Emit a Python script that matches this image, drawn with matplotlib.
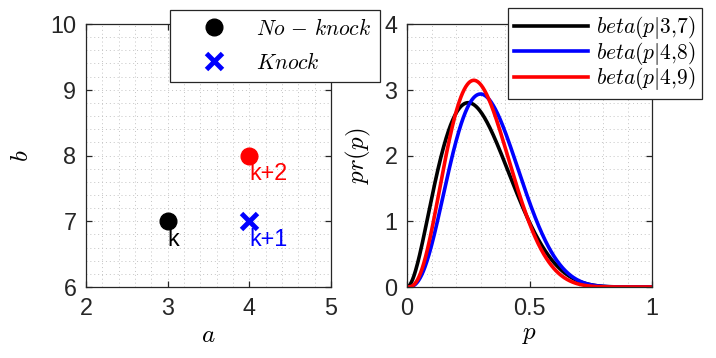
import math
import numpy as np
import matplotlib
matplotlib.use("Agg")
import matplotlib.pyplot as plt
from matplotlib.ticker import MultipleLocator

plt.rcParams['font.family'] = ['Liberation Sans', 'DejaVu Sans']
plt.rcParams['mathtext.fontset'] = 'cm'

# ---- data ----
point_a = [3, 4, 4]
point_b = [7, 7, 8]
point_labels = ['k', 'k+1', 'k+2']
point_colors = ['black', 'blue', 'red']
point_markers = ['o', 'x', 'o']

beta_a = [3, 4, 4]
beta_b = [7, 8, 9]
beta_colors = ['black', 'blue', 'red']
beta_labels = [r'$beta(p|3{,}7)$', r'$beta(p|4{,}8)$', r'$beta(p|4{,}9)$']

left_xticks = [2, 3, 4, 5]
left_yticks = [6, 7, 8, 9, 10]
right_xticks = [0, 0.5, 1]
right_xticklabels = ['0', '0.5', '1']
right_yticks = [0, 1, 2, 3, 4]


def beta_pdf(p, a, b):
    c = math.gamma(a + b) / (math.gamma(a) * math.gamma(b))
    return c * p ** (a - 1) * (1 - p) ** (b - 1)


W, H = 716, 358
fig = plt.figure(figsize=(W / 100, H / 100), dpi=100)
axL = fig.add_axes([86 / W, 1 - 287 / H, (331 - 86) / W, (287 - 24) / H])
axR = fig.add_axes([407 / W, 1 - 287 / H, (652 - 407) / W, (287 - 24) / H])

edge = '#262626'
tick_fs = 16.8
label_fs = 18


def style(ax, minor_x, minor_y):
    for s in ax.spines.values():
        s.set_color(edge)
        s.set_linewidth(0.9)
    ax.tick_params(direction='in', length=4, width=0.9, colors=edge,
                   labelsize=tick_fs, top=True, right=True, pad=7,
                   labelcolor=edge)
    ax.tick_params(which='minor', length=0)
    ax.xaxis.set_minor_locator(MultipleLocator(minor_x))
    ax.yaxis.set_minor_locator(MultipleLocator(minor_y))
    ax.grid(True, which='both', linestyle=(0, (1, 3)), color='#c4c4c4',
            linewidth=0.7)
    ax.set_axisbelow(True)


# ---- left: parameter points ----
handles = {}
for a, b, lab, c, m in zip(point_a, point_b, point_labels, point_colors, point_markers):
    if m == 'o':
        h, = axL.plot([a], [b], linestyle='none', marker='o', markersize=12,
                      color=c, zorder=3)
    else:
        h, = axL.plot([a], [b], linestyle='none', marker='x', markersize=12,
                      markeredgewidth=3.5, color=c, zorder=3)
    handles[lab] = h
    axL.text(a, b - 0.28, lab, color=c, fontsize=tick_fs, ha='left',
             va='center', zorder=4)

axL.set_xlim(2, 5)
axL.set_ylim(6, 10)
axL.set_xticks(left_xticks)
axL.set_yticks(left_yticks)
style(axL, 0.2, 0.2)
axL.set_xlabel(r'$a$', fontsize=label_fs, labelpad=2)
axL.set_ylabel(r'$b$', fontsize=label_fs, labelpad=12)

legL = fig.legend([handles['k'], handles['k+1']],
                  [r'$No\,-\,knock$', r'$Knock$'],
                  loc='upper right', bbox_to_anchor=(380 / W, 1 - 10 / H),
                  bbox_transform=fig.transFigure, fontsize=15.5,
                  frameon=True, fancybox=False, edgecolor=edge,
                  framealpha=1, handlelength=3.3, handletextpad=0.3,
                  borderpad=0.4, labelspacing=0.6, borderaxespad=0)
legL.get_frame().set_linewidth(0.9)

# ---- right: beta densities ----
p = np.linspace(0, 1, 601)
for a, b, c, lab in zip(beta_a, beta_b, beta_colors, beta_labels):
    axR.plot(p, beta_pdf(p, a, b), color=c, linewidth=2.6, label=lab)

axR.set_xlim(0, 1)
axR.set_ylim(0, 4)
axR.set_xticks(right_xticks)
axR.set_xticklabels(right_xticklabels)
axR.set_yticks(right_yticks)
style(axR, 0.1, 0.2)
axR.set_xlabel(r'$p$', fontsize=label_fs, labelpad=2)
axR.set_ylabel(r'$pr(p)$', fontsize=label_fs, labelpad=8)

legR = fig.legend(loc='upper right', bbox_to_anchor=(702 / W, 1 - 8 / H),
                  bbox_transform=fig.transFigure, fontsize=15.5,
                  handles=axR.get_lines(),
                  frameon=True, fancybox=False, edgecolor=edge,
                  framealpha=1, handlelength=3.4, handletextpad=0.4,
                  borderpad=0.3, labelspacing=-0.07, borderaxespad=0)
legR.get_frame().set_linewidth(0.9)

fig.savefig('out.png', dpi=100)
